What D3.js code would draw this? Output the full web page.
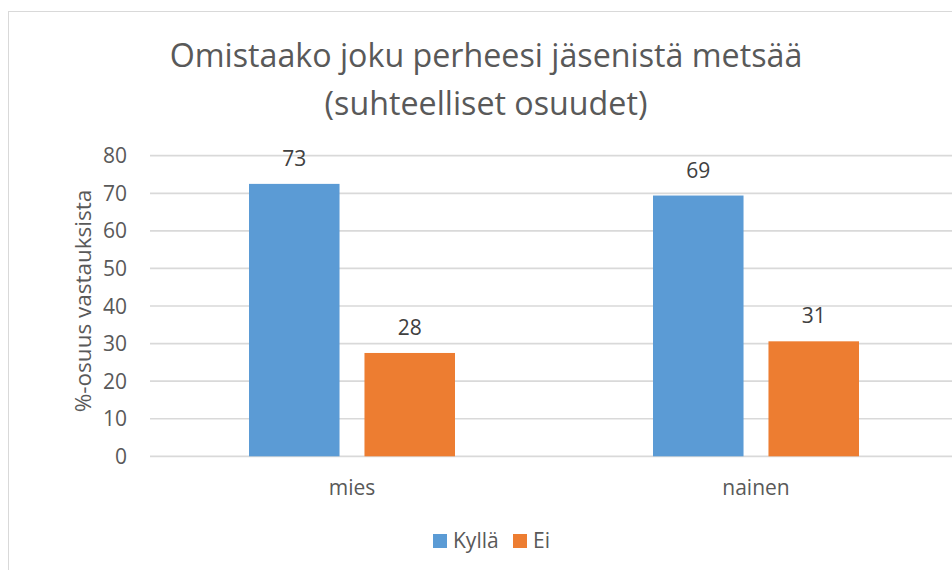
<!DOCTYPE html>
<html>
<head>
<meta charset="utf-8">
<script src="https://cdn.jsdelivr.net/npm/d3@7"></script>
<style>
  body { margin: 0; background: #fff; }
  svg { display: block; font-family: "Open Sans", "Noto Sans", sans-serif; }
</style>
</head>
<body>
<div id="chart"></div>
<script>
// data
var categories = ["mies", "nainen"];
var seriesNames = ["Kyllä", "Ei"];
var kylla = [72.5, 69.4];
var ei = [27.5, 30.6];
var yTicks = [0, 10, 20, 30, 40, 50, 60, 70, 80];
var titleLines = ["Omistaako joku perheesi jäsenistä metsää", "(suhteelliset osuudet)"];
var yTitle = "%-osuus vastauksista";
var colors = ["#5b9bd5", "#ed7d31"];

var width = 952, height = 570;

var svg = d3.select("#chart").append("svg")
    .attr("width", width)
    .attr("height", height);

// chart frame, runs off the right and bottom edge
svg.append("rect")
    .attr("x", 8.5).attr("y", 11.5)
    .attr("width", 980).attr("height", 600)
    .attr("fill", "#fff")
    .attr("stroke", "#d9d9d9");

// scales
var xScale = d3.scaleBand().domain(categories).range([150, 958]).padding(0);
var xInner = d3.scaleBand().domain(seriesNames).range([99, 305]).paddingInner(0.216).paddingOuter(0);
var yScale = d3.scaleLinear().domain([0, 80]).range([456.3, 155.7]);

// gridlines
svg.append("g").selectAll("line")
    .data(yTicks)
    .enter().append("line")
    .attr("x1", xScale.range()[0])
    .attr("x2", xScale.range()[1])
    .attr("y1", d => yScale(d))
    .attr("y2", d => yScale(d))
    .attr("stroke", "#d9d9d9")
    .attr("stroke-width", 1.7);

// y tick labels
svg.append("g").selectAll("text")
    .data(yTicks)
    .enter().append("text")
    .attr("x", 127)
    .attr("y", d => yScale(d))
    .attr("dy", "0.36em")
    .attr("text-anchor", "end")
    .attr("fill", "#595959")
    .style("font-size", "21px")
    .text(d => d);

// y axis title
svg.append("text")
    .attr("transform", "translate(91, 301) rotate(-90)")
    .attr("text-anchor", "middle")
    .attr("fill", "#595959")
    .style("font-size", "22.5px")
    .text(yTitle);

// bars
var table = categories.map((c, i) => ({cat: c, values: [
    {name: seriesNames[0], value: kylla[i]},
    {name: seriesNames[1], value: ei[i]}
]}));

var groups = svg.append("g").selectAll("g")
    .data(table)
    .enter().append("g")
    .attr("transform", d => `translate(${xScale(d.cat)}, 0)`);

groups.selectAll("rect")
    .data(d => d.values)
    .enter().append("rect")
    .attr("x", d => xInner(d.name))
    .attr("width", xInner.bandwidth())
    .attr("y", d => yScale(d.value))
    .attr("height", d => yScale(0) - yScale(d.value))
    .attr("fill", (d, i) => colors[i]);

// data labels
groups.selectAll("text")
    .data(d => d.values)
    .enter().append("text")
    .attr("x", d => xInner(d.name) + xInner.bandwidth() / 2)
    .attr("y", d => yScale(d.value) - 18)
    .attr("text-anchor", "middle")
    .attr("fill", "#404040")
    .style("font-size", "21px")
    .text(d => d3.format(".0f")(d.value));

// category labels
svg.append("g").selectAll("text")
    .data(categories)
    .enter().append("text")
    .attr("x", d => xScale(d) + xInner.range()[0] + (xInner.range()[1] - xInner.range()[0]) / 2)
    .attr("y", 495)
    .attr("text-anchor", "middle")
    .attr("fill", "#595959")
    .style("font-size", "21px")
    .text(d => d);

// title, sized to the width it has in the picture
var title = svg.append("g").attr("fill", "#595959");
var titleWidth = 633;
titleLines.forEach((t, i) => {
    var el = title.append("text")
        .attr("x", 486)
        .attr("y", [66.5, 115][i])
        .attr("text-anchor", "middle")
        .style("font-size", "32px")
        .text(t);
    if (i == 0) title.attr("data-scale", titleWidth / el.node().getComputedTextLength());
});
var s = +title.attr("data-scale");
title.selectAll("text").style("font-size", (32 * s) + "px");

// legend
var legendX = [433, 513];
var legend = svg.append("g").selectAll("g")
    .data(seriesNames)
    .enter().append("g")
    .attr("transform", (d, i) => `translate(${legendX[i]}, 534)`);

legend.append("rect")
    .attr("width", 14).attr("height", 14)
    .attr("fill", (d, i) => colors[i]);

legend.append("text")
    .attr("x", 20)
    .attr("y", 13.5)
    .attr("fill", "#595959")
    .style("font-size", "21px")
    .text(d => d);
</script>
</body>
</html>
